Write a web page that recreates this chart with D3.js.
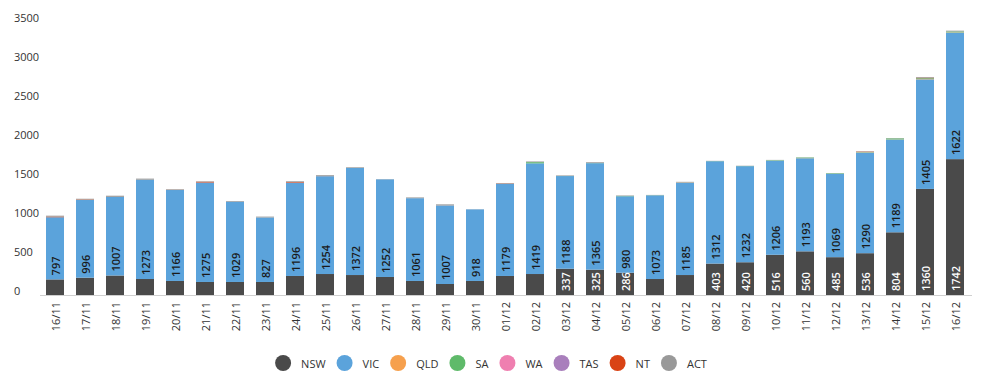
<!doctype html>
<html>
<head>
<meta charset="utf-8">
<style>
  body { margin: 0; background: #fff; }
  svg { display: block; font-family: "Open Sans", sans-serif; }
  .tick-label { font-size: 11px; fill: #333; }
</style>
<script src="https://d3js.org/d3.v7.min.js"></script>
</head>
<body>
<svg width="991" height="381"></svg>
<script>
// dates on the x axis
var dates = ["16/11","17/11","18/11","19/11","20/11","21/11","22/11","23/11","24/11","25/11",
  "26/11","27/11","28/11","29/11","30/11","01/12","02/12","03/12","04/12","05/12","06/12",
  "07/12","08/12","09/12","10/12","11/12","12/12","13/12","14/12","15/12","16/12"];

// series values
var NSW = [200,222,250,205,180,167,167,167,244,269,256,231,180,141,180,244,269,337,325,286,205,
  256,403,420,516,560,485,536,804,1360,1742];
var VIC = [797,996,1007,1273,1166,1275,1029,827,1196,1254,1372,1252,1061,1007,918,1179,1419,
  1188,1365,980,1073,1185,1312,1232,1206,1193,1069,1290,1189,1405,1622];
var QLD = [0,0,0,0,0,0,0,0,0,0,0,0,0,0,0,0,0,0,0,0,0,3,0,0,0,2,0,4,2,4,4];
var SA  = [0,0,0,0,0,0,0,0,0,0,0,0,0,0,0,0,15,1,2,4,2,1,2,2,6,7,7,3,13,10,11];
var WA  = [0,0,0,0,0,0,0,0,0,0,0,0,0,0,0,0,0,0,0,0,0,0,0,0,0,0,0,0,0,0,0];
var TAS = [0,0,0,0,0,0,0,0,0,0,0,0,0,0,0,0,0,0,0,0,0,0,0,0,0,0,0,0,0,1,0];
var NT  = [8,6,1,0,2,10,0,0,8,1,0,0,0,1,0,5,0,0,0,0,0,1,0,0,0,0,0,5,0,6,0];
var ACT = [12,10,15,14,8,6,9,11,10,12,9,3,10,13,2,8,9,7,10,6,3,5,3,3,4,3,3,5,4,9,10];

var yTicks = [0,500,1000,1500,2000,2500,3000,3500];

var states = ["NSW","VIC","QLD","SA","WA","TAS","NT","ACT"];
var colours = ["#4a4a4a","#5ba3db","#f6a04d","#5fba6a","#ef7fb0","#a97fbc","#d94315","#999999"];
var seriesData = {NSW: NSW, VIC: VIC, QLD: QLD, SA: SA, WA: WA, TAS: TAS, NT: NT, ACT: ACT};

var rows = dates.map(function(d, i) {
  var r = {date: d};
  states.forEach(function(s) { r[s] = seriesData[s][i]; });
  return r;
});

var svg = d3.select("svg");

var x = d3.scaleBand().domain(dates).range([40, 970]).paddingInner(0.4).paddingOuter(0.2);
var y = d3.scaleLinear().domain([0, 3500]).range([295, 22]);
var colour = d3.scaleOrdinal().domain(states).range(colours);

var stacked = d3.stack().keys(states)(rows);

// y labels (left aligned, sitting just above their level)
svg.append("g").selectAll("text")
  .data(yTicks).enter().append("text")
  .attr("class", "tick-label")
  .attr("x", 14)
  .attr("y", function(d) { return y(d) - 5; })
  .attr("dominant-baseline", "central")
  .text(function(d) { return d; });

// bars
svg.append("g").selectAll("g")
  .data(stacked).enter().append("g")
  .attr("fill", function(d) { return colour(d.key); })
  .selectAll("rect")
  .data(function(d) { return d; }).enter().append("rect")
  .attr("x", function(d) { return x(d.data.date); })
  .attr("width", x.bandwidth())
  .attr("y", function(d) { return y(d[1]); })
  .attr("height", function(d) { return y(d[0]) - y(d[1]); });

// baseline
svg.append("line")
  .attr("x1", 40).attr("x2", 972)
  .attr("y1", 295.5).attr("y2", 295.5)
  .attr("stroke", "#d0d0d0");

// value labels for NSW and VIC
function addLabels(layer, minVal, fill) {
  svg.append("g").selectAll("text")
    .data(layer.filter(function(d) { return d[1] - d[0] >= minVal; }))
    .enter().append("text")
    .attr("transform", function(d) {
      return "translate(" + (x(d.data.date) + x.bandwidth() / 2) + "," + (y(d[0]) - 4) + ") rotate(-90)";
    })
    .attr("dominant-baseline", "central")
    .attr("font-size", "11px")
    .attr("font-weight", 600)
    .attr("fill", fill)
    .text(function(d) { return d[1] - d[0]; });
}
addLabels(stacked[0], 280, "#ffffff");
addLabels(stacked[1], 0, "#1a1a1a");

// x labels
svg.append("g").selectAll("text")
  .data(dates).enter().append("text")
  .attr("class", "tick-label")
  .attr("transform", function(d) {
    return "translate(" + (x(d) + x.bandwidth() / 2) + ",302) rotate(-90)";
  })
  .attr("text-anchor", "end")
  .attr("dominant-baseline", "central")
  .text(function(d) { return d; });

// legend
var legend = svg.append("g");
var cx = 0;
states.forEach(function(s) {
  var item = legend.append("g").attr("transform", "translate(" + cx + ",0)");
  item.append("circle").attr("cx", 8).attr("cy", 0).attr("r", 8).attr("fill", colour(s));
  var t = item.append("text").attr("class", "tick-label")
    .attr("x", 26).attr("y", 0).attr("dominant-baseline", "central").text(s);
  cx += 26 + t.node().getComputedTextLength() + 11;
});
var legendWidth = cx - 11;
legend.attr("transform", "translate(" + (491 - legendWidth / 2) + ",363)");
</script>
</body>
</html>
